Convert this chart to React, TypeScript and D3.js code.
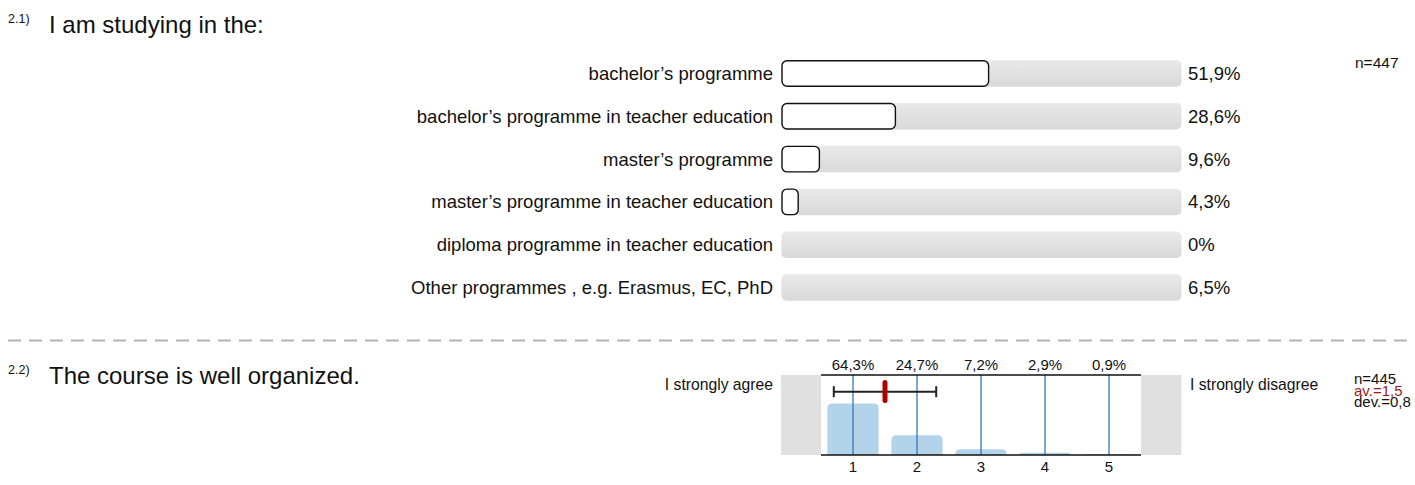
import React, { useEffect, useRef } from 'react'
import * as d3 from 'd3'

// question 2.1
const programmes = [
    'bachelor’s programme',
    'bachelor’s programme in teacher education',
    'master’s programme',
    'master’s programme in teacher education',
    'diploma programme in teacher education',
    'Other programmes , e.g. Erasmus, EC, PhD',
]
const programmeShares = [51.9, 28.6, 9.6, 4.3, 0, 6.5]
const programmeN = 447

// question 2.2
const scaleLabels = ['1', '2', '3', '4', '5']
const scaleShares = [64.3, 24.7, 7.2, 2.9, 0.9]
const organizedN = 445
const organizedMean = 1.5
const organizedDev = 0.8

const FONT = '"Liberation Sans", Arial, Helvetica, sans-serif'
const fmt = (v: number) => String(v).replace('.', ',')

const App = () => {
    const ref = useRef<SVGSVGElement>(null)

    useEffect(() => {
        const svg = d3.select(ref.current)
        svg.selectAll('*').remove()

        const defs = svg.append('defs')
        const grad = defs.append('linearGradient').attr('id', 'bgGrad').attr('x1', 0).attr('y1', 0).attr('x2', 0).attr('y2', 1)
        grad.append('stop').attr('offset', '0%').attr('stop-color', '#e9e9e9')
        grad.append('stop').attr('offset', '100%').attr('stop-color', '#d9d9d9')

        // ---------- question 2.1 ----------
        svg.append('text').attr('x', 8).attr('y', 22.5).attr('font-size', 12.5).text('2.1)')
        svg.append('text').attr('x', 49).attr('y', 33).attr('font-size', 24).text('I am studying in the:')

        const x = d3.scaleLinear().domain([0, 100]).range([781.5, 1181.5])
        const y = d3.scalePoint<string>().domain(programmes).range([73.5, 287.5])
        const barH = 26.5

        const rows = svg.selectAll('.row').data(programmes).enter().append('g').attr('class', 'row')

        rows.append('rect')
            .attr('x', x(0))
            .attr('y', (d) => (y(d) || 0) - barH / 2)
            .attr('width', x(100) - x(0))
            .attr('height', barH)
            .attr('rx', 5)
            .attr('fill', 'url(#bgGrad)')

        rows.filter((_, i) => programmeShares[i] > 0)
            .append('rect')
            .attr('x', x(0) + 0.5)
            .attr('y', (d) => (y(d) || 0) - barH / 2 + 0.5)
            .attr('width', (_, i) => x(programmeShares[i]) - x(0) - 1)
            .attr('height', barH - 1)
            .attr('rx', 5)
            .attr('fill', '#fff')
            .attr('stroke', '#111')
            .attr('stroke-width', 1.4)

        rows.append('text')
            .attr('x', 773)
            .attr('y', (d) => (y(d) || 0) + 6.5)
            .attr('text-anchor', 'end')
            .attr('font-size', 18.5)
            .text((d) => d)

        rows.append('text')
            .attr('x', 1188)
            .attr('y', (d) => (y(d) || 0) + 6.5)
            .attr('font-size', 18.5)
            .text((_, i) => fmt(programmeShares[i]) + '%')

        svg.append('text').attr('x', 1355).attr('y', 68).attr('font-size', 15.5).text('n=' + programmeN)

        // separator
        svg.append('line')
            .attr('x1', 8).attr('x2', 1407).attr('y1', 340.5).attr('y2', 340.5)
            .attr('stroke', '#b3b3b3').attr('stroke-width', 2).attr('stroke-dasharray', '13 8')

        // ---------- question 2.2 ----------
        svg.append('text').attr('x', 8).attr('y', 373.5).attr('font-size', 12.5).text('2.2)')
        svg.append('text').attr('x', 49).attr('y', 384).attr('font-size', 24).text('The course is well organized.')

        const hx = d3.scaleBand<string>().domain(scaleLabels).range([821, 1141]).paddingInner(0.2).paddingOuter(0.1)
        const hy = d3.scaleLinear().domain([0, 100]).range([455, 375])
        const mx = d3.scaleLinear().domain([1, 5]).range([853, 1109])

        // grey end boxes
        svg.append('rect').attr('x', 781).attr('y', hy(100)).attr('width', 40).attr('height', hy(0) - hy(100)).attr('fill', '#e0e0e0')
        svg.append('rect').attr('x', 1141).attr('y', hy(100)).attr('width', 40.5).attr('height', hy(0) - hy(100)).attr('fill', '#e0e0e0')

        // bars with rounded tops
        const r = 5
        svg.selectAll('.hbar').data(scaleLabels).enter().append('path')
            .attr('class', 'hbar')
            .attr('fill', '#b3d3ea')
            .attr('d', (d, i) => {
                const x0 = hx(d) || 0
                const w = hx.bandwidth()
                const top = hy(scaleShares[i])
                const bot = hy(0)
                const rr = Math.min(r, (bot - top))
                const p = d3.path()
                p.moveTo(x0, bot)
                p.lineTo(x0, top + rr)
                p.quadraticCurveTo(x0, top, x0 + rr, top)
                p.lineTo(x0 + w - rr, top)
                p.quadraticCurveTo(x0 + w, top, x0 + w, top + rr)
                p.lineTo(x0 + w, bot)
                p.closePath()
                return p.toString()
            })

        // blue category lines
        svg.selectAll('.vline').data(scaleLabels).enter().append('line')
            .attr('x1', (d) => (hx(d) || 0) + hx.bandwidth() / 2)
            .attr('x2', (d) => (hx(d) || 0) + hx.bandwidth() / 2)
            .attr('y1', hy(100)).attr('y2', hy(0))
            .attr('stroke', '#2b6cb0').attr('stroke-width', 1.2)

        // frame lines
        svg.append('line').attr('x1', 821).attr('x2', 1141).attr('y1', hy(100)).attr('y2', hy(100)).attr('stroke', '#111').attr('stroke-width', 1.5)
        svg.append('line').attr('x1', 821).attr('x2', 1141).attr('y1', hy(0)).attr('y2', hy(0)).attr('stroke', '#111').attr('stroke-width', 1.5)

        // percentages above, scale numbers below
        svg.selectAll('.pct').data(scaleLabels).enter().append('text')
            .attr('x', (d) => (hx(d) || 0) + hx.bandwidth() / 2)
            .attr('y', 370)
            .attr('text-anchor', 'middle')
            .attr('font-size', 15)
            .text((_, i) => fmt(scaleShares[i]) + '%')

        svg.selectAll('.tick').data(scaleLabels).enter().append('text')
            .attr('x', (d) => (hx(d) || 0) + hx.bandwidth() / 2)
            .attr('y', 472)
            .attr('text-anchor', 'middle')
            .attr('font-size', 15)
            .text((d) => d)

        // deviation bar + mean
        const ey = 391.7
        const ex0 = mx(organizedMean - organizedDev)
        const ex1 = mx(organizedMean + organizedDev)
        svg.append('line').attr('x1', ex0).attr('x2', ex1).attr('y1', ey).attr('y2', ey).attr('stroke', '#222').attr('stroke-width', 2)
        ;[ex0, ex1].forEach((xx) => {
            svg.append('line').attr('x1', xx).attr('x2', xx).attr('y1', ey - 5.5).attr('y2', ey + 5.5).attr('stroke', '#222').attr('stroke-width', 2)
        })
        svg.append('rect')
            .attr('x', mx(organizedMean) - 2.5).attr('y', 380).attr('width', 5).attr('height', 23).attr('rx', 2.5)
            .attr('fill', '#b00000')

        svg.append('text').attr('x', 773).attr('y', 390).attr('text-anchor', 'end').attr('font-size', 15.7).text('I strongly agree')
        svg.append('text').attr('x', 1190).attr('y', 390).attr('font-size', 15.7).text('I strongly disagree')

        svg.append('text').attr('x', 1354).attr('y', 383.5).attr('font-size', 15).text('n=' + organizedN)
        svg.append('text').attr('x', 1354).attr('y', 395.5).attr('font-size', 15).attr('fill', '#9b1c1c').text('av.=' + fmt(organizedMean))
        svg.append('text').attr('x', 1354).attr('y', 407).attr('font-size', 15).text('dev.=' + fmt(organizedDev))
    })

    return (
        <svg
            ref={ref}
            width={1415}
            height={485}
            style={{ position: 'absolute', left: 0, top: 0, fontFamily: FONT, background: '#fff' }}
            fill='#111'
        />
    )
}

export default App
